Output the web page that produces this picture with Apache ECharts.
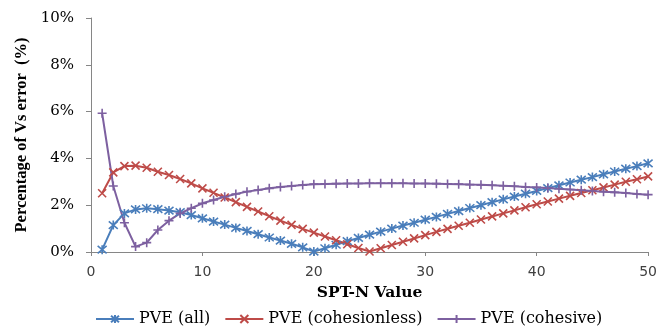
<!DOCTYPE html>
<html>
<head>
<meta charset="utf-8">
<script src="https://cdn.jsdelivr.net/npm/echarts@6/dist/echarts.min.js"></script>
<style>html,body{margin:0;padding:0;background:#fff}#c{width:660px;height:331px}</style>
</head>
<body>
<div id="c"></div>
<script>
var spt = [];
for (var i = 1; i <= 50; i++) spt.push(i);
var pveAll = [0.10,1.15,1.65,1.82,1.87,1.83,1.77,1.70,1.58,1.44,
  1.30,1.17,1.03,0.90,0.76,0.62,0.49,0.35,0.20,0.02,
  0.16,0.31,0.46,0.60,0.74,0.87,1.00,1.13,1.25,1.38,
  1.50,1.63,1.75,1.88,2.00,2.13,2.25,2.37,2.49,2.61,
  2.73,2.85,2.97,3.09,3.20,3.32,3.44,3.56,3.67,3.79];
var pveCohesionless = [2.51,3.40,3.67,3.69,3.60,3.43,3.29,3.12,2.93,2.72,
  2.53,2.33,2.13,1.93,1.73,1.53,1.34,1.16,0.99,0.83,
  0.66,0.50,0.33,0.17,0.02,0.16,0.30,0.44,0.58,0.72,
  0.86,0.99,1.12,1.25,1.39,1.52,1.65,1.78,1.91,2.04,
  2.16,2.28,2.40,2.52,2.64,2.76,2.88,3.00,3.11,3.23];
var pveCohesive = [5.93,2.82,1.25,0.23,0.40,0.94,1.34,1.65,1.87,2.08,
  2.22,2.36,2.48,2.58,2.65,2.72,2.78,2.82,2.86,2.90,
  2.91,2.92,2.93,2.93,2.94,2.94,2.94,2.94,2.93,2.93,
  2.92,2.91,2.90,2.88,2.87,2.85,2.83,2.81,2.78,2.76,
  2.73,2.70,2.67,2.64,2.61,2.58,2.55,2.52,2.48,2.45];
var seriesNames = ['PVE (all)', 'PVE (cohesionless)', 'PVE (cohesive)'];
var xTicks = [0, 10, 20, 30, 40, 50];
var yTicks = [0, 2, 4, 6, 8, 10];

function pairs(arr) { return arr.map(function (v, i) { return [spt[i], v]; }); }

var symAst = 'path://M0,0 L10,10 M10,0 L0,10 M5,-1 L5,11';
var symX = 'path://M0,0 L10,10 M10,0 L0,10';
var symPlus = 'path://M5,0 L5,10 M0,5 L10,5';

function mk(name, data, color, sym, size) {
  return {
    name: name, type: 'line', data: pairs(data),
    symbol: sym, symbolSize: size, showSymbol: true,
    lineStyle: { color: color, width: 2 },
    itemStyle: { color: color, borderColor: color, borderWidth: 1.6 },
    animation: false
  };
}

var chart = echarts.init(document.getElementById('c'));
chart.setOption({
  animation: false,
  grid: { left: 91, right: 7, top: 18, bottom: 79 },
  xAxis: {
    type: 'value', min: xTicks[0], max: xTicks[xTicks.length - 1], interval: 10,
    name: 'SPT-N Value', nameLocation: 'middle', nameGap: 33,
    nameTextStyle: { fontFamily: 'DejaVu Serif', fontWeight: 'bold', fontSize: 15.5, color: '#000' },
    axisLine: { lineStyle: { color: '#868686', width: 1 } },
    axisTick: { show: true, inside: false, length: 4, lineStyle: { color: '#868686' } },
    axisLabel: { fontFamily: 'DejaVu Sans', fontSize: 14, color: '#404040', margin: 13 },
    splitLine: { show: false }
  },
  yAxis: {
    type: 'value', min: yTicks[0], max: yTicks[yTicks.length - 1], interval: 2,
    name: 'Percentage of Vs error  (%)', nameLocation: 'middle', nameGap: 60,
    nameTextStyle: { fontFamily: 'Liberation Serif', fontWeight: 'bold', fontSize: 16.5, color: '#000' },
    axisLine: { show: true, lineStyle: { color: '#868686', width: 1 } },
    axisTick: { show: true, inside: false, length: 5, lineStyle: { color: '#868686' } },
    axisLabel: { fontFamily: 'DejaVu Serif', fontSize: 15, color: '#000', margin: 17, formatter: '{value}%' },
    splitLine: { show: false }
  },
  legend: {
    top: 306, left: 90, itemWidth: 38, itemHeight: 10, itemGap: 14,
    textStyle: { fontFamily: 'DejaVu Serif', fontSize: 16, color: '#000' },
    data: seriesNames
  },
  series: [
    mk(seriesNames[0], pveAll, '#4A7EBB', symAst, 9),
    mk(seriesNames[1], pveCohesionless, '#BE4B48', symX, 8),
    mk(seriesNames[2], pveCohesive, '#7D60A0', symPlus, 9)
  ]
});
</script>
</body>
</html>
